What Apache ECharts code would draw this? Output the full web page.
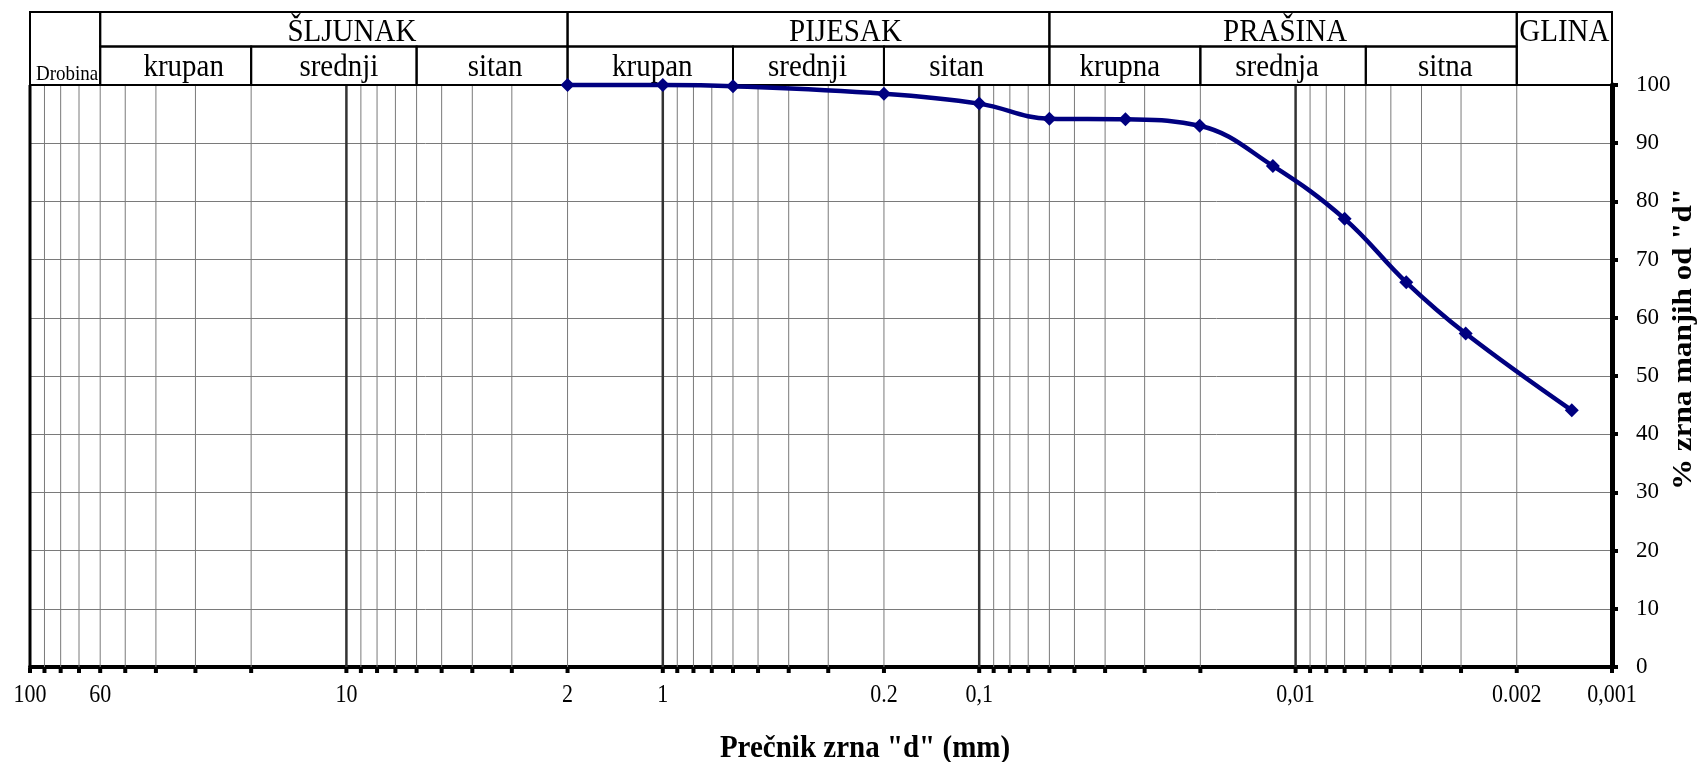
<!DOCTYPE html>
<html>
<head>
<meta charset="utf-8">
<script src="https://cdn.jsdelivr.net/npm/echarts@6/dist/echarts.min.js"></script>
<style>
html,body{margin:0;padding:0;background:#fff;}
#chart{width:1701px;height:762px;}
</style>
</head>
<body>
<div id="chart"></div>
<script>
// ---- data ----
const grainDiameters = [2, 1, 0.6, 0.2, 0.1, 0.06, 0.0345, 0.0201, 0.0118, 0.0070, 0.00447, 0.0029, 0.00134];
const percentFiner   = [100, 100, 99.8, 98.5, 96.8, 94.2, 94.1, 93.0, 86.1, 77.0, 66.1, 57.3, 44.1];

const xTickValues = [100, 60, 10, 2, 1, 0.2, 0.1, 0.01, 0.002, 0.001];
const xTickTexts  = ['100', '60', '10', '2', '1', '0.2', '0,1', '0,01', '0.002', '0,001'];

const groupNames = ['Drobina', 'ŠLJUNAK', 'PIJESAK', 'PRAŠINA', 'GLINA'];
const groupFrom  = [100, 60, 2, 0.06, 0.002];
const groupTo    = [60, 2, 0.06, 0.002, 0.001];

const subNames = ['krupan', 'srednji', 'sitan', 'krupan', 'srednji', 'sitan', 'krupna', 'srednja', 'sitna'];
const subFrom  = [60, 20, 6, 2, 0.6, 0.2, 0.06, 0.02, 0.006];
const subTo    = [20, 6, 2, 0.6, 0.2, 0.06, 0.02, 0.006, 0.002];

const decadeStarts = [0.001, 0.01, 0.1, 1, 10];
const decadeMultipliers = [1, 2, 3, 4, 5, 6, 7, 8, 9];

const xTitle = 'Prečnik zrna "d" (mm)';
const yTitle = '% zrna manjih od "d"';

// ---- layout constants (label nudges, px) ----
const groupLabelShift = [2, 18, 37, 2, 0];
const subLabelShift   = [8, 5, 3, 2, -1, -10, -5, -6, 4];

// ---- derived tables for the library ----
const FONT = '"Liberation Serif", "Times New Roman", serif';
const TEXT_STRETCH = 1.08;
const gridData = [];
decadeStarts.forEach(function (d) {
  decadeMultipliers.forEach(function (m) {
    const v = +(d * m).toPrecision(6);
    let kind = (m === 1 && d > 0.001) ? 1 : 0; // 1 = decade line
    if (d === 0.001 && m === 1) kind = 3; // right axis
    gridData.push([v, kind]);
  });
});
gridData.push([100, 2]); // left border

const headerData = [];
groupNames.forEach(function (n, i) {
  let row = 0;
  if (n === 'Drobina') row = 2;
  if (n === 'GLINA') row = 3;
  headerData.push([groupFrom[i], groupTo[i], row, n, groupLabelShift[i]]);
});
subNames.forEach(function (n, i) {
  headerData.push([subFrom[i], subTo[i], 1, n, subLabelShift[i]]);
});

const tickLabelData = xTickValues.map(function (v, i) { return [v, 0, xTickTexts[i]]; });

const chart = echarts.init(document.getElementById('chart'), null, {renderer: 'canvas'});

function renderGrid(params, api) {
  const v = api.value(0);
  const kind = api.value(1);
  const p0 = api.coord([v, 0]);
  const p1 = api.coord([v, 100]);
  const children = [];
  if (kind !== 3) {
    let stroke = '#7a7a7a', lw = 1;
    if (kind === 1) { stroke = '#333333'; lw = 2.5; }
    if (kind === 2) { stroke = '#000000'; lw = 3; }
    children.push({
      type: 'line',
      shape: {x1: p0[0], y1: p0[1], x2: p1[0], y2: p1[1]},
      style: {stroke: stroke, lineWidth: lw}
    });
  }
  children.push({
    type: 'rect',
    shape: {x: p0[0] - 2, y: p0[1] + 1, width: 4, height: 5},
    style: {fill: '#000'}
  });
  return {type: 'group', children: children};
}

function renderHeader(params, api) {
  const a = api.coord([api.value(0), 100]);
  const b = api.coord([api.value(1), 100]);
  const row = api.value(2);
  const name = headerData[params.dataIndex][3];
  const shift = headerData[params.dataIndex][4];
  const top = a[1];
  const hTop = top - 73;
  const hMid = top - 38.5;
  let y0, y1;
  if (row === 0) { y0 = hTop; y1 = hMid; }
  else if (row === 1) { y0 = hMid; y1 = top; }
  else { y0 = hTop; y1 = top; }
  const x0 = Math.min(a[0], b[0]);
  const x1 = Math.max(a[0], b[0]);
  const children = [{
    type: 'rect',
    shape: {x: x0, y: y0, width: x1 - x0, height: y1 - y0},
    style: {fill: 'none', stroke: '#000', lineWidth: 2}
  }];
  let ty, fs = 29;
  if (row === 0 || row === 3) ty = hTop + 21;
  else if (row === 1) ty = hMid + 21;
  else { ty = top - 10; fs = 19; }
  children.push({
    type: 'text',
    x: (x0 + x1) / 2 + shift,
    y: ty,
    scaleY: TEXT_STRETCH,
    style: {
      text: name,
      x: 0,
      y: 0,
      align: 'center',
      verticalAlign: 'middle',
      font: fs + 'px ' + FONT,
      fill: '#000'
    }
  });
  return {type: 'group', children: children};
}

function renderTickLabel(params, api) {
  const p = api.coord([api.value(0), 0]);
  return {
    type: 'text',
    x: p[0],
    y: p[1] + 29,
    scaleY: 1.12,
    style: {
      text: tickLabelData[params.dataIndex][2],
      x: 0,
      y: 0,
      align: 'center',
      verticalAlign: 'middle',
      font: '22px ' + FONT,
      fill: '#000'
    }
  };
}

const option = {
  animation: false,
  backgroundColor: '#ffffff',
  grid: {left: 30, right: 89, top: 85, bottom: 95, containLabel: false},
  xAxis: {
    type: 'log',
    logBase: 10,
    min: 0.001,
    max: 100,
    inverse: true,
    axisLine: {show: true, onZero: false, lineStyle: {color: '#000', width: 4}},
    axisTick: {show: false},
    axisLabel: {show: false},
    splitLine: {show: false},
    minorTick: {show: false},
    minorSplitLine: {show: false}
  },
  yAxis: {
    type: 'value',
    position: 'right',
    min: 0,
    max: 100,
    interval: 10,
    axisLine: {show: true, lineStyle: {color: '#000', width: 5}},
    axisTick: {show: true, inside: false, length: 6, lineStyle: {color: '#000', width: 4}},
    axisLabel: {margin: 24, color: '#000', fontFamily: FONT, fontSize: 23},
    splitLine: {show: true, lineStyle: {color: '#7a7a7a', width: 1}}
  },
  graphic: [
    {
      type: 'text',
      x: 865, y: 749,
      scaleY: 1.1,
      style: {text: xTitle, x: 0, y: 0, align: 'center', verticalAlign: 'middle',
              font: 'bold 29px ' + FONT, fill: '#000'}
    },
    {
      type: 'text',
      x: 1684, y: 339,
      rotation: Math.PI / 2,
      scaleX: 1.15,
      style: {text: yTitle, x: 0, y: 0, align: 'center', verticalAlign: 'middle',
              font: 'bold 27px ' + FONT, fill: '#000'}
    }
  ],
  series: [
    {
      type: 'custom',
      name: 'grid',
      z: 1,
      silent: true,
      clip: false,
      renderItem: renderGrid,
      encode: {x: 0, y: 1},
      data: gridData
    },
    {
      type: 'custom',
      name: 'header',
      z: 1,
      silent: true,
      clip: false,
      renderItem: renderHeader,
      encode: {x: 0},
      data: headerData.map(function (r) { return [r[0], r[1], r[2]]; })
    },
    {
      type: 'custom',
      name: 'ticklabels',
      z: 1,
      silent: true,
      clip: false,
      renderItem: renderTickLabel,
      encode: {x: 0, y: 1},
      data: tickLabelData.map(function (r) { return [r[0], r[1]]; })
    },
    {
      type: 'line',
      name: 'granulometrija',
      z: 5,
      smooth: 0.4,
      symbol: 'diamond',
      symbolSize: 14,
      clip: false,
      lineStyle: {color: '#000080', width: 4.5},
      itemStyle: {color: '#000080'},
      data: grainDiameters.map(function (d, i) { return [d, percentFiner[i]]; })
    }
  ]
};
chart.setOption(option);
</script>
</body>
</html>
